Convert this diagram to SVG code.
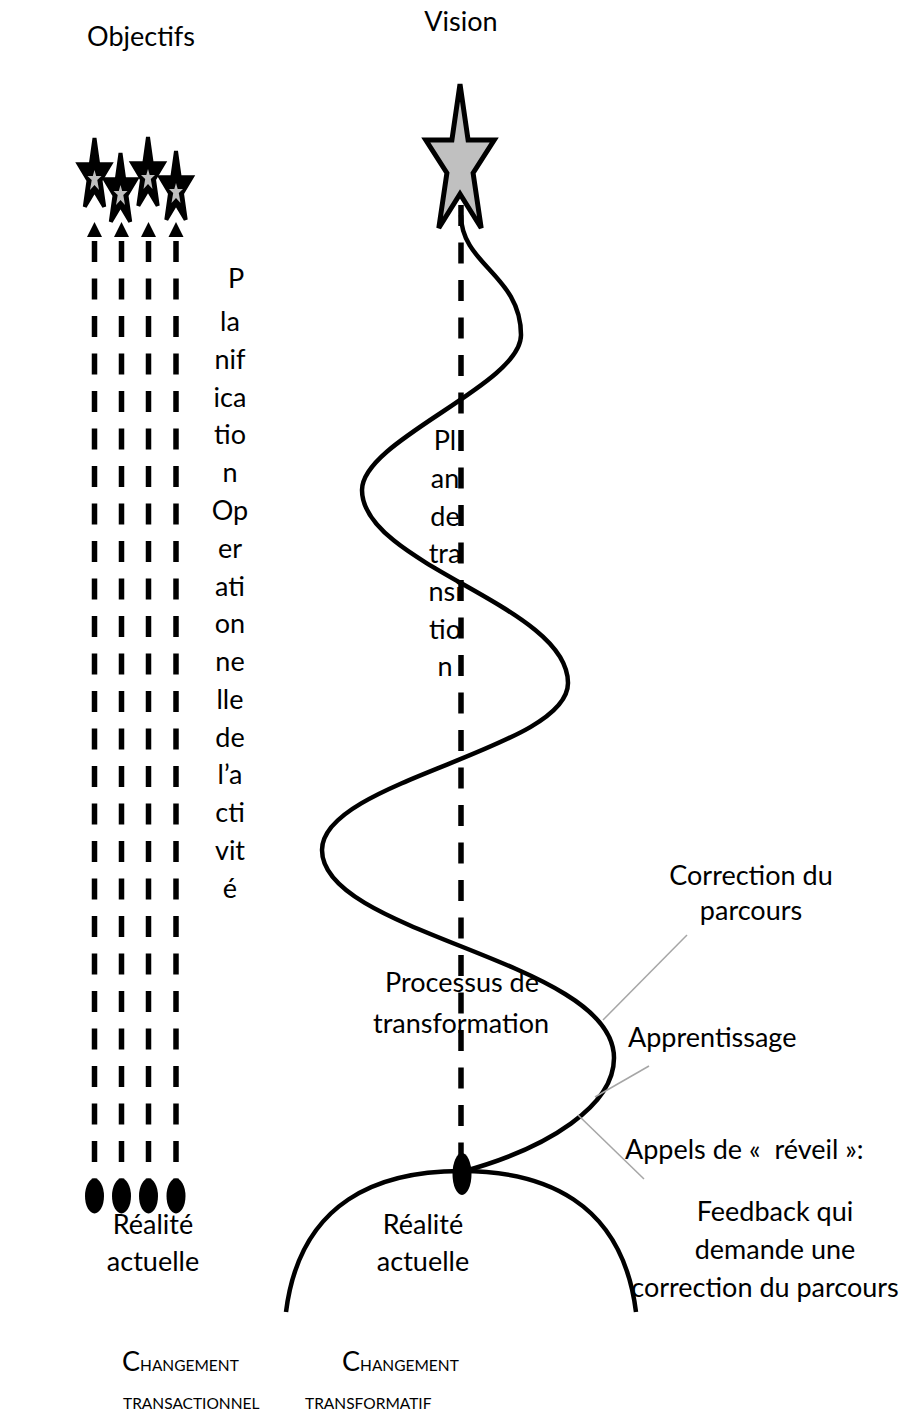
<svg xmlns="http://www.w3.org/2000/svg" xmlns:xlink="http://www.w3.org/1999/xlink" width="906" height="1415" viewBox="0 0 906 1415">
  <style>
    .t { font-family: Lato, "Liberation Sans", sans-serif; font-size: 27px; fill: #000; }
    .c { text-anchor: middle; }
    .sc { font-size: 15.5px; }
    .dash { stroke: #000; stroke-width: 5.5; fill: none; stroke-dasharray: 21 16.5; }
    .curve { stroke: #000; stroke-width: 4.5; fill: none; }
    .lead { stroke: #a6a6a6; stroke-width: 1.5; fill: none; }
    .star { fill: #000; stroke: #000; stroke-width: 4; stroke-linejoin: miter; }
    .core { fill: #bfbfbf; stroke: none; }
    .dot { fill: #000; }
  </style>
  <defs>
    <!-- narrow five-point star, centred on 0,0 -->
    <polygon id="sstar" points="0,-38 3.7,-11.7 15.7,-11.7 6,4.5 9.7,30.7 0,14.5 -9.7,30.7 -6,4.5 -15.7,-11.7 -3.7,-11.7"/>
    <polygon id="score" points="0,-8 1.7,-2 7,-2 2.8,2 4.5,12 0,7 -4.5,12 -2.8,2 -7,-2 -1.7,-2"/>
    <polygon id="ahead" points="0,-15 7.5,0 -7.5,0"/>
  </defs>

  <!-- titles -->
  <g id="objectifs">
    <text class="t c" x="141" y="46">Objectifs</text>
  </g>
  <g id="vision">
    <text class="t c" x="461" y="31">Vision</text>
  </g>

  <!-- connectors -->
  <g id="connectors">
    <!-- operational lines: current reality to objectives -->
    <line class="dash" x1="94.5" y1="241" x2="94.5" y2="1190"/>
    <line class="dash" x1="121.5" y1="241" x2="121.5" y2="1190"/>
    <line class="dash" x1="148.5" y1="241" x2="148.5" y2="1190"/>
    <line class="dash" x1="176" y1="241" x2="176" y2="1190"/>
    <use xlink:href="#ahead" x="94.5" y="237"/>
    <use xlink:href="#ahead" x="121.5" y="237"/>
    <use xlink:href="#ahead" x="148.5" y="237"/>
    <use xlink:href="#ahead" x="176" y="237"/>

    <!-- transition plan -->
    <line class="dash" x1="461" y1="205" x2="461" y2="1165"/>

    <!-- transformation process -->
    <path class="curve" d="M 461 215 C 461 265, 521 275, 521 335 C 521 385, 362 440, 362 490 C 362 565, 568 605, 568 683 C 568 750, 322 780, 322 850 C 322 935, 614 960, 614 1058 C 614 1105, 550 1148, 461 1172"/>

    <!-- current reality hill -->
    <path class="curve" d="M 286 1312 C 300 1200, 380 1171, 461 1171 C 542 1171, 622 1200, 636 1312"/>

    <!-- leader lines -->
    <line class="lead" x1="687" y1="935" x2="603" y2="1020"/>
    <line class="lead" x1="649" y1="1066" x2="595" y2="1097"/>
    <line class="lead" x1="578" y1="1115" x2="644" y2="1179"/>
  </g>

  <!-- objectives -->
  <g id="objective-1"><use class="star" xlink:href="#sstar" x="94.5" y="176"/><use class="core" xlink:href="#score" x="94.5" y="178"/></g>
  <g id="objective-2"><use class="star" xlink:href="#sstar" x="120.5" y="191"/><use class="core" xlink:href="#score" x="120.5" y="193"/></g>
  <g id="objective-3"><use class="star" xlink:href="#sstar" x="148" y="175"/><use class="core" xlink:href="#score" x="148" y="177"/></g>
  <g id="objective-4"><use class="star" xlink:href="#sstar" x="176" y="189"/><use class="core" xlink:href="#score" x="176" y="191"/></g>

  <!-- vision star -->
  <g id="vision-star">
    <polygon points="460,84 468.1,140 494.2,140 473.1,173 481.2,228 460,194 438.8,228 446.9,173 425.8,140 451.9,140" fill="#c0c0c0" stroke="#000" stroke-width="5"/>
  </g>

  <!-- current reality points -->
  <g id="reality-points">
    <ellipse class="dot" cx="94.5" cy="1196" rx="9.5" ry="17.5"/>
    <ellipse class="dot" cx="121.5" cy="1196" rx="9.5" ry="17.5"/>
    <ellipse class="dot" cx="148.5" cy="1196" rx="9.5" ry="17.5"/>
    <ellipse class="dot" cx="176" cy="1196" rx="9.5" ry="17.5"/>
  </g>
  <g id="reality-point">
    <ellipse class="dot" cx="462" cy="1174" rx="9.5" ry="21"/>
  </g>

  <!-- operational planning label -->
  <g id="planification">
    <text class="t c" x="236" y="288">P</text>
    <text class="t c" x="230" y="331">la</text>
    <text class="t c" x="230" y="369">nif</text>
    <text class="t c" x="230" y="407">ica</text>
    <text class="t c" x="230" y="444">tio</text>
    <text class="t c" x="230" y="482">n</text>
    <text class="t c" x="230" y="520">Op</text>
    <text class="t c" x="230" y="558">er</text>
    <text class="t c" x="230" y="596">ati</text>
    <text class="t c" x="230" y="633">on</text>
    <text class="t c" x="230" y="671">ne</text>
    <text class="t c" x="230" y="709">lle</text>
    <text class="t c" x="230" y="747">de</text>
    <text class="t c" x="230" y="784">l’a</text>
    <text class="t c" x="230" y="822">cti</text>
    <text class="t c" x="230" y="860">vit</text>
    <text class="t c" x="230" y="898">é</text>
  </g>

  <!-- transition plan label -->
  <g id="plan-transition">
    <text class="t c" x="445" y="450">Pl</text>
    <text class="t c" x="445" y="488">an</text>
    <text class="t c" x="445" y="526">de</text>
    <text class="t c" x="445" y="563">tra</text>
    <text class="t c" x="445" y="601">nsi</text>
    <text class="t c" x="445" y="639">tio</text>
    <text class="t c" x="445" y="676">n</text>
  </g>

  <g id="processus">
    <text class="t c" x="462" y="992">Processus de</text>
    <text class="t c" x="461" y="1033">transformation</text>
  </g>

  <g id="correction">
    <text class="t c" x="751" y="885">Correction du</text>
    <text class="t c" x="751" y="920">parcours</text>
  </g>

  <g id="apprentissage">
    <text class="t" x="628" y="1047">Apprentissage</text>
  </g>

  <g id="appels">
    <text class="t" x="625" y="1159" xml:space="preserve">Appels de «  réveil »:</text>
  </g>

  <g id="feedback">
    <text class="t c" x="775" y="1221">Feedback qui</text>
    <text class="t c" x="775" y="1259">demande une</text>
    <text class="t c" x="765" y="1297">correction du parcours</text>
  </g>

  <g id="realite-gauche">
    <text class="t c" x="153" y="1234">Réalité</text>
    <text class="t c" x="153" y="1271">actuelle</text>
  </g>
  <g id="realite-centre">
    <text class="t c" x="423" y="1234">Réalité</text>
    <text class="t c" x="423" y="1271">actuelle</text>
  </g>

  <g id="changement-transactionnel">
    <text class="t" x="122" y="1371">C<tspan class="sc">HANGEMENT</tspan></text>
    <text class="t sc" x="123" y="1409">TRANSACTIONNEL</text>
  </g>
  <g id="changement-transformatif">
    <text class="t" x="342" y="1371">C<tspan class="sc">HANGEMENT</tspan></text>
    <text class="t sc" x="305" y="1409">TRANSFORMATIF</text>
  </g>
</svg>
